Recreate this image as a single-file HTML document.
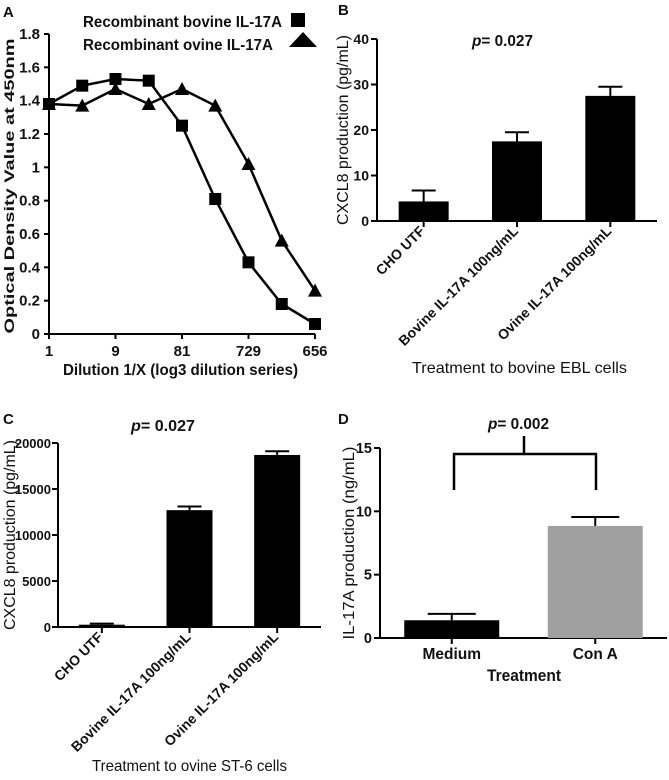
<!DOCTYPE html>
<html><head><meta charset="utf-8"><style>
body{margin:0;background:#fff}
svg{display:block;font-family:"Liberation Sans",Arial,sans-serif}
text{fill:#111}
</style></head><body>
<svg id="s" width="669" height="780" viewBox="0 0 669 780">
</svg>
<script>
// Panel A data
const aCats=["1","3","9","27","81","243","729","2187","656"];
const aTickLabels=["1","9","81","729","656"];
const aBovine=[1.38,1.49,1.53,1.52,1.25,0.81,0.43,0.18,0.06];
const aOvine=[1.38,1.37,1.47,1.38,1.47,1.37,1.02,0.56,0.26];
const aYTicks=[0,0.2,0.4,0.6,0.8,1,1.2,1.4,1.6,1.8];
// Panel B data
const bCats=["CHO UTF","Bovine IL-17A 100ng/mL","Ovine IL-17A 100ng/mL"];
const bVals=[4.3,17.5,27.5];
const bErr=[2.4,2.0,2.0];
const bYTicks=[0,10,20,30,40];
// Panel C data
const cCats=["CHO UTF","Bovine IL-17A 100ng/mL","Ovine IL-17A 100ng/mL"];
const cVals=[250,12700,18700];
const cErr=[120,400,400];
const cYTicks=[0,5000,10000,15000,20000];
// Panel D data
const dCats=["Medium","Con A"];
const dVals=[1.4,8.85];
const dErr=[0.5,0.7];
const dYTicks=[0,5,10,15];
const dColors=["#000","#a0a0a0"];

const S=document.getElementById('s');
const NS="http://www.w3.org/2000/svg";
function mk(tag,attrs,name,txt){const e=document.createElementNS(NS,tag);for(const k in attrs)e.setAttribute(k,attrs[k]);


if(txt!==undefined)e.textContent=txt;S.appendChild(e);return e;}
function line(x1,y1,x2,y2,name,w){return mk('line',{x1,y1,x2,y2,stroke:'#000','stroke-width':w||2},name);}
function txt(x,y,s,name,o){const a=Object.assign({x,y,'font-size':15,'font-weight':'bold'},o||{});return mk('text',a,name,s);}
function fit(len){return {textLength:len,lengthAdjust:'spacingAndGlyphs'};}

// ---------- Panel A ----------
txt(3,17,"A","panel-a-label",{'font-size':15});
const ax0=49,ax1=315,ay0=334,ay1=34,aMax=1.8;
const axX=i=>ax0+i*(ax1-ax0)/(aCats.length-1);
const axY=v=>ay0-v/aMax*(ay0-ay1);
line(ax0,ay1,ax0,ay0+1,"a-y-axis");
line(ax0-1,ay0,ax1,ay0,"a-x-axis");
aYTicks.forEach(v=>{line(ax0-5,axY(v),ax0,axY(v),"a-y-tick");
txt(40,axY(v)+5,String(v),"a-y-tick-label",{'text-anchor':'end','font-size':15});});
aTickLabels.forEach((l,j)=>{const x=axX(j*2);line(x,ay0,x,ay0+5,"a-x-tick");
txt(x,ay0+22,l,"a-x-tick-label",{'text-anchor':'middle','font-size':15});});
txt(63,375,"Dilution 1/X (log3 dilution series)","a-x-axis-title",Object.assign({'font-size':16},fit(235)));
txt(0,0,"Optical Density Value at 450nm","a-y-axis-title",Object.assign({'text-anchor':'middle','font-size':14,transform:'translate(14,186) rotate(-90)'},fit(295)));
mk('polyline',{points:aBovine.map((v,i)=>axX(i)+','+axY(v)).join(' '),fill:'none',stroke:'#000','stroke-width':2.5},"a-bovine-line");
mk('polyline',{points:aOvine.map((v,i)=>axX(i)+','+axY(v)).join(' '),fill:'none',stroke:'#000','stroke-width':2.5},"a-ovine-line");
aBovine.forEach((v,i)=>mk('rect',{x:axX(i)-6,y:axY(v)-6,width:12,height:12,fill:'#000'},"a-bovine-point"));
aOvine.forEach((v,i)=>{const x=axX(i),y=axY(v);mk('polygon',{points:`${x-7},${y+6} ${x+7},${y+6} ${x},${y-7}`,fill:'#000'},"a-ovine-point");});
txt(83,27,"Recombinant bovine IL-17A","a-legend-bovine-label",Object.assign({'font-size':15.5},fit(199)));
mk('rect',{x:291,y:13,width:14,height:14,fill:'#000'},"a-legend-bovine-marker");
txt(83,50,"Recombinant ovine IL-17A","a-legend-ovine-label",Object.assign({'font-size':15.5},fit(190)));
mk('polygon',{points:"289,47 317,47 303,32",fill:'#000'},"a-legend-ovine-marker");

// ---------- bar helper ----------
function bars(p,cats,vals,errs,ticks,o){
  const yv=v=>o.y0-v/o.max*(o.y0-o.y1);
  const step=(o.x1-o.x0)/cats.length;
  line(o.x0,o.y1,o.x0,o.y0+1,p+"-y-axis");
  line(o.x0-1,o.y0,o.x1,o.y0,p+"-x-axis");
  ticks.forEach(v=>{line(o.x0-6,yv(v),o.x0,yv(v),p+"-y-tick");
    txt(o.x0-o.tg,yv(v)+5,String(v),p+"-y-tick-label",{'text-anchor':'end','font-size':o.tfs});});
  cats.forEach((c,i)=>{
    const cx=o.x0+step*(i+0.5);
    const bw=o.bw;
    mk('rect',{x:cx-bw/2,y:yv(vals[i]),width:bw,height:o.y0-yv(vals[i]),fill:(o.colors?o.colors[i]:'#000')},p+"-bar-"+(i+1));
    const ye=yv(vals[i]+errs[i]);
    line(cx,yv(vals[i]),cx,ye,p+"-error-bar",2);
    line(cx-o.cap,ye,cx+o.cap,ye,p+"-error-cap",2);
    line(cx,o.y0,cx,o.y0+6,p+"-x-tick");
    if(o.rot){txt(0,0,c,p+"-x-tick-label",{'text-anchor':'end','font-size':14,transform:`translate(${cx+2},${o.y0+11}) rotate(-45)`});}
    else txt(cx,o.y0+21,c,p+"-x-tick-label",{'text-anchor':'middle','font-size':15.5});
  });
}

// ---------- Panel B ----------
txt(338,15,"B","panel-b-label",{'font-size':15});
bars("b",bCats,bVals,bErr,bYTicks,{x0:377,x1:657,y0:221,y1:39,max:40,bw:50,cap:12,rot:true,tg:8,tfs:14});
txt(0,0,"CXCL8 production (pg/mL)","b-y-axis-title",Object.assign({'text-anchor':'middle','font-size':16,'font-weight':'normal',transform:'translate(348,130) rotate(-90)'},fit(190)));
mk('text',Object.assign({x:472,y:46,'font-size':16,'font-weight':'bold'},fit(61)),"b-p-value").innerHTML='<tspan font-style="italic">p</tspan>= 0.027';
txt(412,373,"Treatment to bovine EBL cells","b-x-axis-title",Object.assign({'font-size':16,'font-weight':'normal'},fit(215)));

// ---------- Panel C ----------
txt(3,424,"C","panel-c-label",{'font-size':15});
bars("c",cCats,cVals,cErr,cYTicks,{x0:58,x1:321,y0:627,y1:443,max:20000,bw:46,cap:12,rot:true,tg:7,tfs:13});
txt(0,0,"CXCL8 production (pg/mL)","c-y-axis-title",Object.assign({'text-anchor':'middle','font-size':16,'font-weight':'normal',transform:'translate(15,535) rotate(-90)'},fit(190)));
mk('text',Object.assign({x:131,y:431,'font-size':16,'font-weight':'bold'},fit(64)),"c-p-value").innerHTML='<tspan font-style="italic">p</tspan>= 0.027';
txt(92,771,"Treatment to ovine ST-6 cells","c-x-axis-title",Object.assign({'font-size':16,'font-weight':'normal'},fit(195)));

// ---------- Panel D ----------
txt(338,424,"D","panel-d-label",{'font-size':15});
bars("d",dCats,dVals,dErr,dYTicks,{x0:380,x1:667,y0:638,y1:448,max:15,bw:95,cap:24,rot:false,colors:dColors,tg:8,tfs:14.5});
txt(0,0,"IL-17A production (ng/mL)","d-y-axis-title",Object.assign({'text-anchor':'middle','font-size':16,'font-weight':'normal',transform:'translate(354,543) rotate(-90)'},fit(193)));
mk('polyline',{points:"454,490 454,454 596,454 596,490",fill:'none',stroke:'#000','stroke-width':2.5},"d-significance-bracket");
line(524,454,524,436,"d-bracket-stem",2.5);
mk('text',Object.assign({x:488,y:429,'font-size':16,'font-weight':'bold'},fit(61)),"d-p-value").innerHTML='<tspan font-style="italic">p</tspan>= 0.002';
txt(487,681,"Treatment","d-x-axis-title",Object.assign({'font-size':17},fit(74)));
</script>
</body></html>
